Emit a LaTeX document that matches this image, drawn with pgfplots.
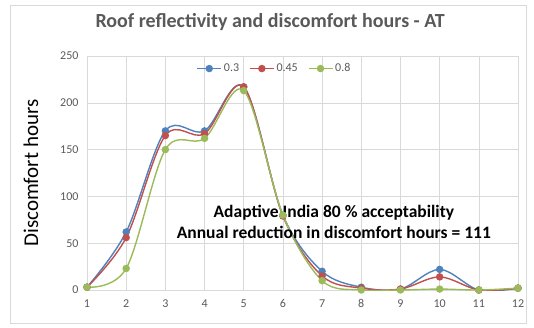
\documentclass[border=0pt]{standalone}
\usepackage{pgfplots}
\pgfplotsset{compat=1.18}
\usepackage{fontspec}
\setmainfont{Carlito}
\definecolor{s1}{HTML}{4F81BD}
\definecolor{s2}{HTML}{C0504D}
\definecolor{s3}{HTML}{9BBB59}
\definecolor{txt}{HTML}{595959}
\definecolor{grd}{HTML}{D9D9D9}
\begin{document}
\begin{tikzpicture}[x=1pt,y=1pt]
\path[use as bounding box] (0,0) rectangle (534,327);
\draw[grd, line width=0.8pt] (10,4) rectangle (526,322);
\begin{axis}[
  at={(87pt,37pt)}, anchor=origin,
  scale only axis, width=431pt, height=234pt,
  xmin=1, xmax=12, ymin=0, ymax=250,
  xtick={1,...,12}, ytick={0,50,...,250},
  grid=major, major grid style={grd, line width=0.6pt},
  axis line style={grd}, tick style={draw=none},
  ticklabel style={font=\fontsize{12}{13}\selectfont, text=txt},
  xticklabel style={yshift=-6pt}, yticklabel style={xshift=-5pt},
  /pgf/number format/assume math mode=true,
  ylabel={Discomfort hours}, ylabel style={font=\fontsize{21}{23}\selectfont, at={(axis description cs:-0.105,0.5)}},
  title={Roof reflectivity and discomfort hours - AT},
  title style={font=\bfseries\fontsize{20}{22}\selectfont, text=txt, anchor=center, at={(axis description cs:0.425,1.12)}},
  legend style={at={(0.435,0.985)}, anchor=north, draw=none, fill=none, legend columns=3,
    font=\fontsize{12}{13}\selectfont, text=txt, /tikz/every even column/.append style={column sep=8pt}},
  legend image code/.code={\draw[#1] (0pt,0pt) -- (24pt,0pt); \fill[#1] (12pt,0pt) circle (3pt);},
  every axis plot/.append style={line width=1.4pt, smooth, tension=0.55, mark=*, mark size=3pt},
]
\addplot[s1, mark options={fill=s1, draw=s1}] coordinates {(1,3) (2,62) (3,170) (4,170) (5,217) (6,80) (7,20) (8,3) (9,1) (10,22) (11,0) (12,2)};
\addplot[s2, mark options={fill=s2, draw=s2}] coordinates {(1,3) (2,56) (3,165) (4,167) (5,217) (6,79) (7,15) (8,2) (9,1) (10,14) (11,0) (12,2)};
\addplot[s3, mark options={fill=s3, draw=s3}] coordinates {(1,3) (2,23) (3,150) (4,162) (5,213) (6,80) (7,10) (8,0) (9,0) (10,1) (11,0) (12,2)};
\legend{0.3,0.45,0.8}
\node[font=\bfseries\fontsize{17.5}{21}\selectfont, align=center, anchor=center] at (axis cs:7.3,73) {Adaptive India 80 \% acceptability\\Annual reduction in discomfort hours = 111};
\end{axis}
\end{tikzpicture}
\end{document}
